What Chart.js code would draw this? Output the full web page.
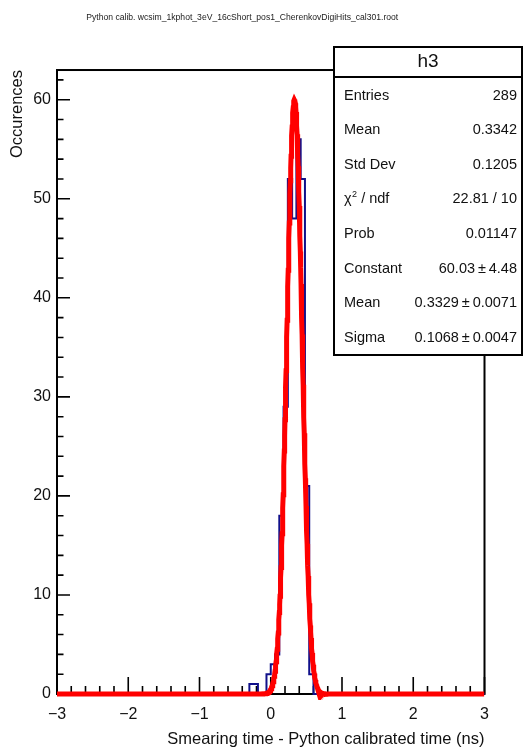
<!DOCTYPE html>
<html>
<head>
<meta charset="utf-8">
<script src="https://cdn.jsdelivr.net/npm/chart.js@4.4.1/dist/chart.umd.min.js"></script>
<style>
  html, body { margin: 0; padding: 0; background: #fff; }
  #c { display: block; }
</style>
</head>
<body>
<canvas id="c" width="524" height="749"></canvas>
<script>
// h3: time residuals, 0.06 ns bins between -3 and 3 (empty bins left out)
const xMin = -3, xMax = 3;
const binWidth = 0.06;
const binLow   = [-0.30, -0.24, -0.06, 0.00, 0.06, 0.12, 0.18, 0.24, 0.30, 0.36, 0.42, 0.48, 0.54];
const binCount = [1, 1, 2, 3, 4, 18, 29, 52, 48, 56, 52, 21, 2];

// gaus fit parameters
const fitConstant = 60.03;
const fitMean = 0.3329;
const fitSigma = 0.1068;

// stats box
const statTitle = 'h3';
const statLabels = ['Entries', 'Mean', 'Std Dev', 'chi2', 'Prob', 'Constant', 'Mean', 'Sigma'];
const statValues = ['289', '0.3342', '0.1205', '22.81 / 10', '0.01147',
                    '60.03\u2009\u00b1\u20094.48', '0.3329\u2009\u00b1\u20090.0071', '0.1068\u2009\u00b1\u20090.0047'];

const xTicks = [-3, -2, -1, 0, 1, 2, 3];
const yTicks = [0, 10, 20, 30, 40, 50, 60];

const titleText = 'Python calib. wcsim_1kphot_3eV_16cShort_pos1_CherenkovDigiHits_cal301.root';
const xTitle = 'Smearing time - Python calibrated time (ns)';
const yTitle = 'Occurences';

const FONT = 'Liberation Sans, Helvetica, Arial, sans-serif';

// outline of the histogram as a step path
const nBins = Math.round((xMax - xMin) / binWidth);
const histPts = [];
for (let i = 0; i < nBins; i++) {
  const lo = xMin + i * binWidth;
  const k = binLow.findIndex(b => Math.round(b / binWidth) === Math.round(lo / binWidth));
  const n = k < 0 ? 0 : binCount[k];
  histPts.push({x: lo, y: n}, {x: lo + binWidth, y: n});
}

// fitted gaussian over the full axis range
const fitPts = [];
for (let i = 0; i <= 1200; i++) {
  const x = xMin + i * 0.005;
  const t = (x - fitMean) / fitSigma;
  fitPts.push({x: x, y: fitConstant * Math.exp(-0.5 * t * t)});
}

const rootFrame = {
  id: 'rootFrame',
  beforeDatasetsDraw(chart) {
    const {ctx, chartArea: a, scales: {x, y}} = chart;
    ctx.save();
    ctx.strokeStyle = '#000';
    ctx.lineWidth = 1.6;
    ctx.beginPath();
    // x ticks: major every 1, minor every 0.2
    for (let i = 0; i <= 30; i++) {
      const v = xMin + i * 0.2;
      const px = x.getPixelForValue(v);
      const len = i % 5 === 0 ? 17 : 8;
      ctx.moveTo(px, a.bottom);
      ctx.lineTo(px, a.bottom - len);
    }
    // y ticks: major every 10, minor every 2
    for (let v = 0; v <= 62; v += 2) {
      const py = y.getPixelForValue(v);
      const len = v % 10 === 0 ? 13 : 6.5;
      ctx.moveTo(a.left, py);
      ctx.lineTo(a.left + len, py);
    }
    ctx.stroke();
    ctx.lineWidth = 2;
    ctx.strokeRect(a.left, a.top, a.right - a.left, a.bottom - a.top);
    ctx.restore();
  },
  afterDraw(chart) {
    const ctx = chart.ctx;
    const bx = 334, by = 47, bw = 188, bh = 308;
    ctx.save();
    ctx.fillStyle = '#fff';
    ctx.fillRect(bx, by, bw, bh);
    ctx.strokeStyle = '#000';
    ctx.lineWidth = 2;
    ctx.strokeRect(bx, by, bw, bh);
    ctx.beginPath();
    ctx.moveTo(bx, 77);
    ctx.lineTo(bx + bw, 77);
    ctx.stroke();

    ctx.fillStyle = '#111';
    ctx.textBaseline = 'middle';
    ctx.textAlign = 'center';
    ctx.font = '19px ' + FONT;
    ctx.fillText(statTitle, bx + bw / 2, 62);

    ctx.font = '14.5px ' + FONT;
    statLabels.forEach((lab, i) => {
      const yy = 95.5 + i * 34.6;
      ctx.textAlign = 'left';
      if (lab === 'chi2') {
        ctx.fillText('\u03c7', 344, yy);
        const w = ctx.measureText('\u03c7').width;
        ctx.font = '9px ' + FONT;
        ctx.fillText('2', 344 + w + 0.5, yy - 5);
        ctx.font = '14.5px ' + FONT;
        ctx.fillText(' / ndf', 344 + w + 5.5, yy);
      } else {
        ctx.fillText(lab, 344, yy);
      }
      ctx.textAlign = 'right';
      ctx.fillText(statValues[i], 517, yy);
    });
    ctx.restore();
  }
};

new Chart(document.getElementById('c'), {
  type: 'scatter',
  data: {
    datasets: [
      {
        label: 'gaus',
        data: fitPts,
        showLine: true,
        borderColor: '#ff0000',
        borderWidth: 5,
        pointRadius: 0,
        tension: 0,
        clip: 6,
        order: 0
      },
      {
        label: 'h3',
        data: histPts,
        showLine: true,
        borderColor: '#10108a',
        borderWidth: 2,
        pointRadius: 0,
        tension: 0,
        clip: 4,
        order: 1
      }
    ]
  },
  options: {
    responsive: false,
    animation: false,
    devicePixelRatio: 1,
    layout: { padding: { left: 0, right: 39.5, top: 0, bottom: 0 } },
    plugins: {
      legend: { display: false },
      tooltip: { enabled: false },
      title: {
        display: true,
        text: titleText,
        color: '#222',
        font: { family: FONT, size: 8.6, weight: 'normal' },
        padding: { top: 12.8, bottom: 46.9 }
      }
    },
    scales: {
      x: {
        type: 'linear',
        min: xMin,
        max: xMax,
        grid: { display: false, drawTicks: false },
        border: { display: false },
        afterBuildTicks: s => { s.ticks = xTicks.map(v => ({value: v})); },
        afterFit: s => { s.height = 55; },
        ticks: {
          padding: 10.5,
          color: '#111',
          font: { family: FONT, size: 16 },
          callback: v => String(v).replace('-', '\u2212')
        },
        title: {
          display: true,
          text: xTitle,
          align: 'end',
          color: '#111',
          font: { family: FONT, size: 16.5 },
          padding: { top: 0, bottom: 0 }
        }
      },
      y: {
        type: 'linear',
        min: 0,
        max: 63,
        grid: { display: false, drawTicks: false },
        border: { display: false },
        afterBuildTicks: s => { s.ticks = yTicks.map(v => ({value: v})); },
        afterFit: s => { s.width = 57; },
        ticks: {
          padding: 6,
          color: '#111',
          font: { family: FONT, size: 16 }
        },
        title: {
          display: true,
          text: yTitle,
          align: 'end',
          color: '#111',
          font: { family: FONT, size: 16.5 },
          padding: { top: 7.6, bottom: 0 }
        }
      }
    }
  },
  plugins: [rootFrame]
});
</script>
</body>
</html>
